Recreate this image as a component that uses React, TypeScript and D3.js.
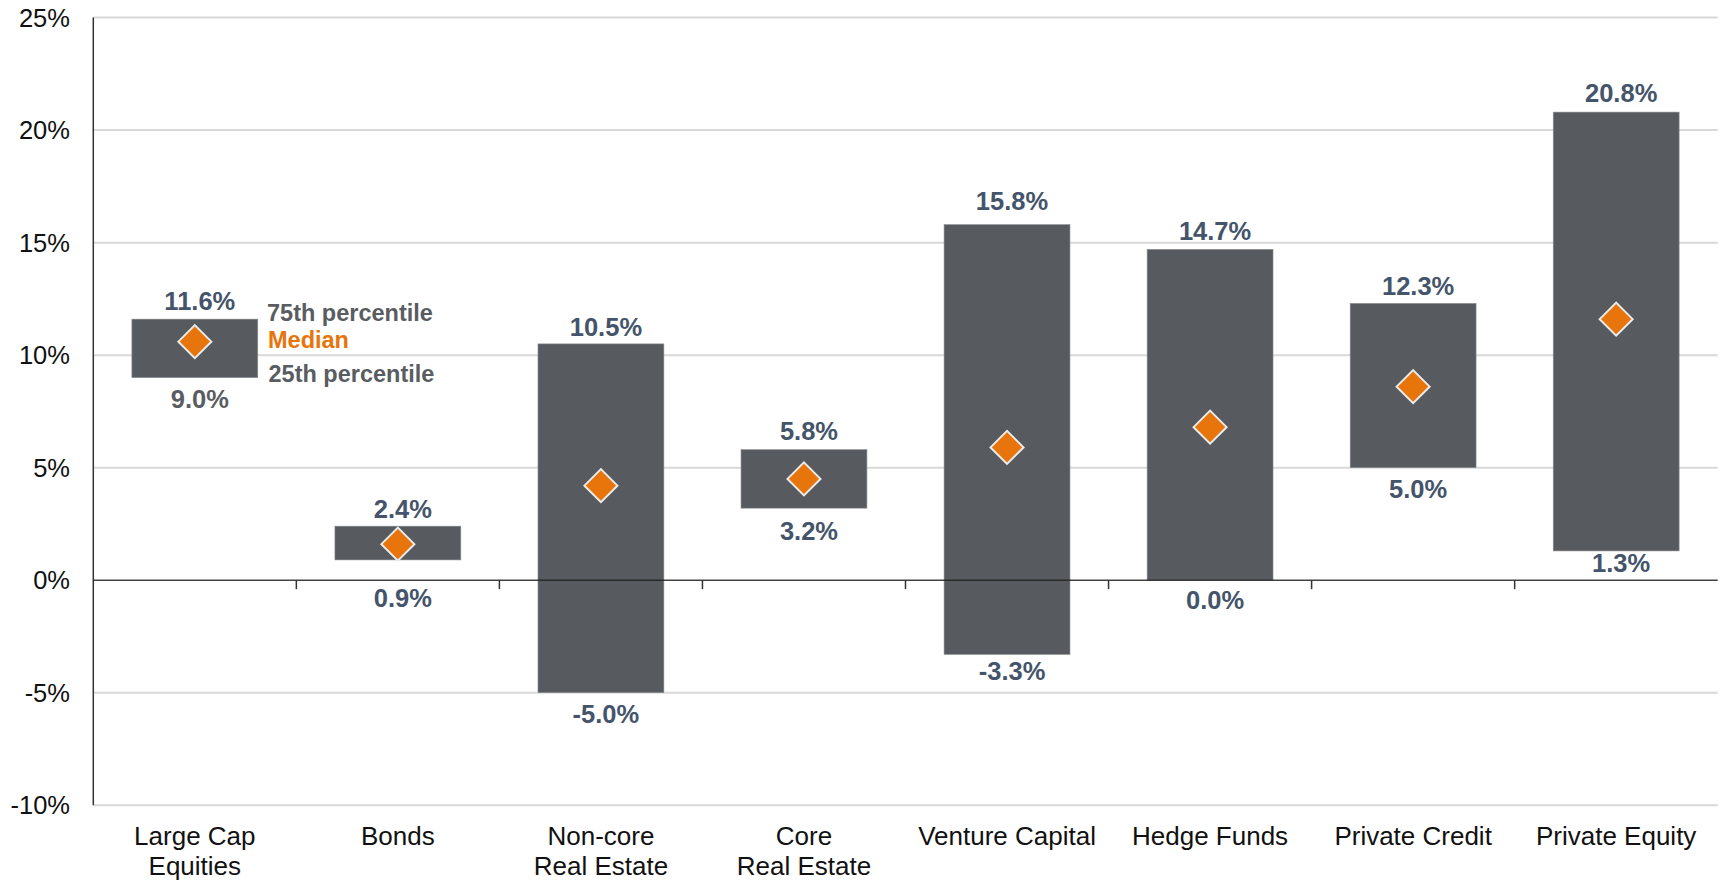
import React from "react";
import * as d3 from "d3";

const categories = [
  ["Large Cap", "Equities"],
  ["Bonds"],
  ["Non-core", "Real Estate"],
  ["Core", "Real Estate"],
  ["Venture Capital"],
  ["Hedge Funds"],
  ["Private Credit"],
  ["Private Equity"],
];
const p25 = [9.0, 0.9, -5.0, 3.2, -3.3, 0.0, 5.0, 1.3];
const p75 = [11.6, 2.4, 10.5, 5.8, 15.8, 14.7, 12.3, 20.8];
const median = [10.6, 1.6, 4.2, 4.5, 5.9, 6.8, 8.6, 11.6];
const yTicks = [-10, -5, 0, 5, 10, 15, 20, 25];

// label placement nudges (layout, in px)
const topGap = [9, 8, 8, 10, 15, 9, 8, 10];
const bottomGap = [30, 47, 30, 32, 26, 29, 30, 21];

const W = 1721;
const H = 882;
const left = 93.3;
const right = 1717.7;

export default function App() {
  const keys = categories.map((c) => c.join(" "));
  const x = d3.scaleBand().domain(keys).range([left, right]).paddingInner(0.38).paddingOuter(0.19);
  const band = d3.scaleBand().domain(keys).range([left, right]);
  const y = d3.scaleLinear().domain([-10, 25]).range([805.2, 17.6]);
  const font = "'Liberation Sans', Arial, sans-serif";
  const labelColor = "#44546a";
  const barColor = "#575b5f";
  const orange = "#e8740c";
  const d = 16.5;

  return (
    <div style={{ position: "absolute", left: 0, top: 0 }}>
      <svg width={W} height={H} style={{ display: "block", background: "#fff" }} fontFamily={font}>
        {/* gridlines */}
        {yTicks.filter((t) => t !== 0).map((t) => (
          <line key={t} x1={left} x2={right} y1={y(t)} y2={y(t)} stroke="#d9d9d9" strokeWidth={2} />
        ))}
        {/* tick labels */}
        {yTicks.map((t) => (
          <text key={t} x={70} y={y(t) + 9} textAnchor="end" fontSize={25.5} fill="#111">
            {t}%
          </text>
        ))}
        {/* bars */}
        {keys.map((k, i) => (
          <rect
            key={k}
            x={x(k)}
            width={x.bandwidth()}
            y={y(p75[i])}
            height={y(p25[i]) - y(p75[i])}
            fill={barColor}
            stroke="#8a8d90"
            strokeWidth={0.6}
          />
        ))}
        {/* axes */}
        <line x1={left} x2={left} y1={y(25)} y2={y(-10)} stroke="#333" strokeWidth={1.5} />
        <line x1={left} x2={right} y1={y(0)} y2={y(0)} stroke="#222" strokeWidth={1.5} strokeOpacity={0.85} />
        {keys.slice(1).map((k) => (
          <line key={k} x1={band(k)} x2={band(k)} y1={y(0)} y2={y(0) + 9} stroke="#333" strokeWidth={1.5} />
        ))}
        {/* medians */}
        {keys.map((k, i) => {
          const cx = x(k)! + x.bandwidth() / 2;
          const cy = y(median[i]);
          const pts = [[cx, cy - d], [cx + d, cy], [cx, cy + d], [cx - d, cy]];
          return (
            <path
              key={k}
              d={d3.line()(pts as [number, number][])! + "Z"}
              fill={orange}
              stroke="#ececec"
              strokeWidth={2}
              strokeLinejoin="miter"
            />
          );
        })}
        {/* value labels */}
        {keys.map((k, i) => {
          const cx = x(k)! + x.bandwidth() / 2 + 5;
          return (
            <g key={k} fontWeight="bold" fontSize={25.5} textAnchor="middle">
              <text x={cx} y={y(p75[i]) - topGap[i]} fill={labelColor}>
                {p75[i].toFixed(1)}%
              </text>
              <text x={cx} y={y(p25[i]) + bottomGap[i]} fill={i === 0 ? "#595d61" : labelColor}>
                {p25[i].toFixed(1)}%
              </text>
            </g>
          );
        })}
        {/* legend annotation */}
        <g fontWeight="bold" fontSize={23.5}>
          <text x={267} y={320.7} fill="#595d61">75th percentile</text>
          <text x={268} y={348.3} fill={orange}>Median</text>
          <text x={268.5} y={381.7} fill="#595d61">25th percentile</text>
        </g>
        {/* category labels */}
        {keys.map((k, i) => {
          const cx = band(k)! + band.bandwidth() / 2;
          return (
            <text key={k} textAnchor="middle" fontSize={26} fill="#111">
              {categories[i].map((line, j) => (
                <tspan key={j} x={cx} y={845 + j * 29.5}>
                  {line}
                </tspan>
              ))}
            </text>
          );
        })}
      </svg>
    </div>
  );
}
